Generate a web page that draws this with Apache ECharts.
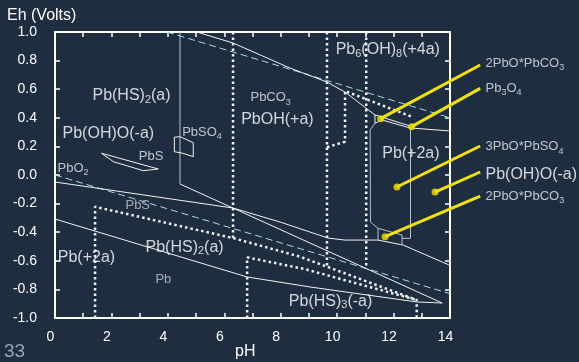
<!DOCTYPE html>
<html>
<head>
<meta charset="utf-8">
<script src="https://cdn.jsdelivr.net/npm/echarts@6.0.0/dist/echarts.min.js"></script>
<style>
html,body{margin:0;padding:0;background:#1f2d40;overflow:hidden;}
#chart{width:579px;height:362px;}
</style>
</head>
<body>
<div id="chart"></div>
<script>
// ---------- tick labels ----------
const xTickLabels = [0, 2, 4, 6, 8, 10, 12, 14];
const yTickLabels = [-1.0, -0.8, -0.6, -0.4, -0.2, 0.0, 0.2, 0.4, 0.6, 0.8, 1.0];

// ---------- water stability limits (dashed) [pH, Eh] ----------
const waterUpper = [[3.97, 1.0], [14, 0.40]];
const waterLower = [[0, 0.0], [14, -0.83]];

// ---------- solid boundaries [pH, Eh] ----------
const upperBoundary = [[5.03, 1.0], [6.31, 0.923], [8.33, 0.748], [9.64, 0.650], [10.28, 0.580], [11.34, 0.420]];
const carbonateBoxLeft = [[11.34, 0.420], [11.34, 0.362]];
const carbonateUpperEdge = [[11.34, 0.420], [12.58, 0.343]];
const carbonateLowerEdge = [[11.34, 0.362], [11.59, 0.385], [12.58, 0.329], [14, 0.308]];
const carbonateBoxRight = [[11.59, 0.406], [11.59, 0.385]];
const lineQ = [[0, -0.049], [6.31, -0.231], [7.98, -0.329], [9.68, -0.441], [10.28, -0.455], [11.45, -0.455], [12.34, -0.490], [14, -0.632]];
const lineP = [[4.43, -0.063], [13.72, -0.895]];
const lineLow = [[0, -0.308], [6.81, -0.713], [9.04, -0.783], [12.83, -0.888], [13.72, -0.895]];
const pbsWedge = [[1.65, 0.152], [3.66, 0.042], [3.13, 0.030], [2.07, 0.093], [1.65, 0.152]];

// ---------- grey (sulfate) boundaries ----------
const sulfateVertical = [[4.43, 1.0], [4.43, -0.063]];
const pbso4Box = [[4.23, 0.264], [4.43, 0.268], [4.90, 0.226], [4.90, 0.128], [4.53, 0.152], [4.23, 0.163], [4.23, 0.264]];
const grayBoxLeft = [[11.34, 0.362], [11.17, 0.315], [11.18, -0.329], [11.45, -0.373], [11.45, -0.455]];
const grayBoxRight = [[12.60, 0.336], [12.60, -0.443], [12.30, -0.443]];
const lowerCarbBox = [[11.45, -0.373], [12.30, -0.420], [12.30, -0.488]];

// ---------- dotted boundaries ----------
const dotted1 = [[6.31, 1.0], [6.31, -0.441]];
const dotted2 = [[1.42, -1.0], [1.42, -0.222], [6.31, -0.441], [8.68, -0.571], [12.82, -0.874], [12.82, -1.0]];
const dotted3 = [[6.81, -1.0], [6.81, -0.576], [8.85, -0.658], [12.82, -0.874]];
const dotted4 = [[9.64, 1.0], [9.64, -0.641]];
const dotted4b = [[9.64, 0.194], [10.28, 0.233], [10.28, 0.587], [12.66, 0.406]];
const dotted5 = [[11.03, 1.0], [11.03, -0.654]];

// ---------- yellow pointers [start, end] ----------
const pointer1 = [[15.07, 0.769], [11.54, 0.394]];
const pointer2 = [[15.07, 0.606], [12.64, 0.338]];
const pointer3 = [[15.07, 0.203], [12.12, -0.084]];
const pointer4 = [[15.07, 0.021], [13.47, -0.119]];
const pointer5 = [[15.07, -0.147], [11.70, -0.431]];

// ---------- region labels ----------
const labelPos = [
  [1.31, 0.552], [0.25, 0.287], [2.95, 0.133], [0.07, 0.049], [2.48, -0.21],
  [4.49, 0.30], [6.91, 0.54], [6.58, 0.385], [9.93, 0.874], [11.58, 0.147],
  [0.08, -0.576], [3.19, -0.506], [3.54, -0.73], [8.27, -0.886],
  [15.24, 0.781], [15.24, 0.606], [15.24, 0.198], [15.24, 0.0], [15.24, -0.147]
];
const labelText = [
  '{b|Pb(HS)}{bs|2}{b|(a)}', '{b|Pb(OH)O(-a)}', '{s|PbS}', '{s|PbO}{ss|2}', '{g|PbS}',
  '{s|PbSO}{ss|4}', '{s|PbCO}{ss|3}', '{b|PbOH(+a)}', '{b|Pb}{bs|6}{b|(OH)}{bs|8}{b|(+4a)}', '{b|Pb(+2a)}',
  '{b|Pb(+2a)}', '{b|Pb(HS)}{bs|2}{b|(a)}', '{g|Pb}', '{b|Pb(HS)}{bs|3}{b|(-a)}',
  '{s|2PbO*PbCO}{ss|3}', '{s|Pb}{ss|3}{s|O}{ss|4}', '{s|3PbO*PbSO}{ss|4}', '{b|Pb(OH)O(-a)}', '{s|2PbO*PbCO}{ss|3}'
];

const FONT = '"Liberation Sans", Arial, sans-serif';
const WHITE = '#f2f2f2';
const GRAY = '#b9c1ca';
const CYAN = '#a6dde6';
const YELLOW = '#f0e20a';

function line(data, color, width, type, z, gridIdx) {
  return {
    type: 'line', data: data, symbol: 'none', showSymbol: false, silent: true,
    xAxisIndex: gridIdx ? 2 : 0, yAxisIndex: gridIdx ? 2 : 0, z: z || 2,
    lineStyle: { color: color, width: width, type: type || 'solid', cap: 'butt' }
  };
}
const DOT = [2.5, 3];
const DASH = [7, 4];

const series = [
  line(waterUpper, CYAN, 1, DASH, 1),
  line(waterLower, CYAN, 1, DASH, 1),
  line(upperBoundary, WHITE, 1),
  line(carbonateBoxLeft, WHITE, 1),
  line(carbonateUpperEdge, WHITE, 1),
  line(carbonateLowerEdge, WHITE, 1),
  line(carbonateBoxRight, WHITE, 1),
  line(lineQ, WHITE, 1),
  line(lineP, WHITE, 1),
  line(lineLow, WHITE, 1),
  line(pbsWedge, WHITE, 1),
  line(sulfateVertical, GRAY, 1),
  line(pbso4Box, WHITE, 1),
  line(grayBoxLeft, GRAY, 1),
  line(grayBoxRight, GRAY, 1),
  line(lowerCarbBox, GRAY, 1),
  line(dotted1, WHITE, 2.5, DOT, 3),
  line(dotted2, WHITE, 2.5, DOT, 3),
  line(dotted3, WHITE, 2.5, DOT, 3),
  line(dotted4, WHITE, 2.5, DOT, 3),
  line(dotted4b, WHITE, 2.5, DOT, 3),
  line(dotted5, WHITE, 2.5, DOT, 3)
];
// pointers live on a wider, hidden grid sharing the same pH / Eh scale (0..16 pH)
[pointer1, pointer2, pointer3, pointer4, pointer5].forEach(function (p) {
  series.push(line(p, YELLOW, 3, 'solid', 6, 1));
});
series.push({
  type: 'scatter', silent: true, z: 7, xAxisIndex: 2, yAxisIndex: 2,
  data: [pointer1[1], pointer2[1], pointer3[1], pointer4[1], pointer5[1]],
  symbol: 'circle', symbolSize: 7, itemStyle: { color: YELLOW }
});
series.push({
  type: 'scatter', silent: true, z: 8, xAxisIndex: 2, yAxisIndex: 2,
  data: labelPos, symbolSize: 1, itemStyle: { color: 'rgba(0,0,0,0)' },
  label: {
    show: true, position: 'right', distance: 0,
    formatter: function (p) { return labelText[p.dataIndex]; },
    rich: {
      b: { fontSize: 16, color: '#ffffff', fontFamily: FONT, lineHeight: 18 },
      bs: { fontSize: 11, color: '#ffffff', fontFamily: FONT, lineHeight: 12, verticalAlign: 'bottom' },
      s: { fontSize: 13, color: '#e4e8ec', fontFamily: FONT, lineHeight: 18 },
      ss: { fontSize: 9, color: '#e4e8ec', fontFamily: FONT, lineHeight: 10, verticalAlign: 'bottom' },
      g: { fontSize: 13, color: '#c5ccd4', fontFamily: FONT, lineHeight: 18 }
    }
  }
});

const axisLineStyle = { show: true, onZero: false, lineStyle: { color: '#ffffff', width: 2 } };
const tickStyle = { show: true, inside: true, length: 5, lineStyle: { color: '#ffffff', width: 1.5 } };
const PLOT_W = 395;

const option = {
  backgroundColor: '#1f2d40',
  animation: false,
  grid: [
    { left: 55, top: 32, width: PLOT_W, height: 286 },
    { left: 55, top: 32, width: PLOT_W * 16 / 14, height: 286 }
  ],
  xAxis: [
    {
      type: 'value', min: 0, max: 14, interval: 1, position: 'bottom', gridIndex: 0,
      axisLine: axisLineStyle, axisTick: tickStyle, splitLine: { show: false },
      axisLabel: {
        color: '#ffffff', fontSize: 14, fontFamily: FONT, margin: 12, padding: [0, 9, 0, 0],
        formatter: function (v) { return xTickLabels.indexOf(v) >= 0 ? String(v) : ''; }
      }
    },
    {
      type: 'value', min: 0, max: 14, interval: 1, position: 'top', gridIndex: 0,
      axisLine: axisLineStyle, axisTick: tickStyle, splitLine: { show: false }, axisLabel: { show: false }
    },
    { type: 'value', min: 0, max: 16, gridIndex: 1, show: false }
  ],
  yAxis: [
    {
      type: 'value', min: -1, max: 1, interval: 0.2, position: 'left', gridIndex: 0,
      axisLine: axisLineStyle, axisTick: tickStyle, splitLine: { show: false },
      axisLabel: {
        color: '#ffffff', fontSize: 14, fontFamily: FONT, margin: 18, padding: [3, 0, 0, 0],
        formatter: function (v) {
          const r = Math.round(v * 10) / 10;
          const hit = yTickLabels.some(function (t) { return Math.abs(t - r) < 1e-6; });
          if (!hit) return '';
          return r === 0 ? '0.0' : r.toFixed(1);
        }
      }
    },
    {
      type: 'value', min: -1, max: 1, interval: 0.2, position: 'right', gridIndex: 0,
      axisLine: axisLineStyle, axisTick: tickStyle, splitLine: { show: false }, axisLabel: { show: false }
    },
    { type: 'value', min: -1, max: 1, gridIndex: 1, show: false }
  ],
  graphic: [
    { type: 'text', left: 7, top: 8, style: { text: 'Eh (Volts)', fill: '#ffffff', font: '16px ' + FONT } },
    { type: 'text', left: 235, top: 344, style: { text: 'pH', fill: '#ffffff', font: '16px ' + FONT } },
    { type: 'text', left: 4, top: 342, style: { text: '33', fill: '#9aa6b3', font: '19px ' + FONT } }
  ],
  series: series
};

const chart = echarts.init(document.getElementById('chart'), null, { renderer: 'canvas' });
chart.setOption(option);
</script>
</body>
</html>
